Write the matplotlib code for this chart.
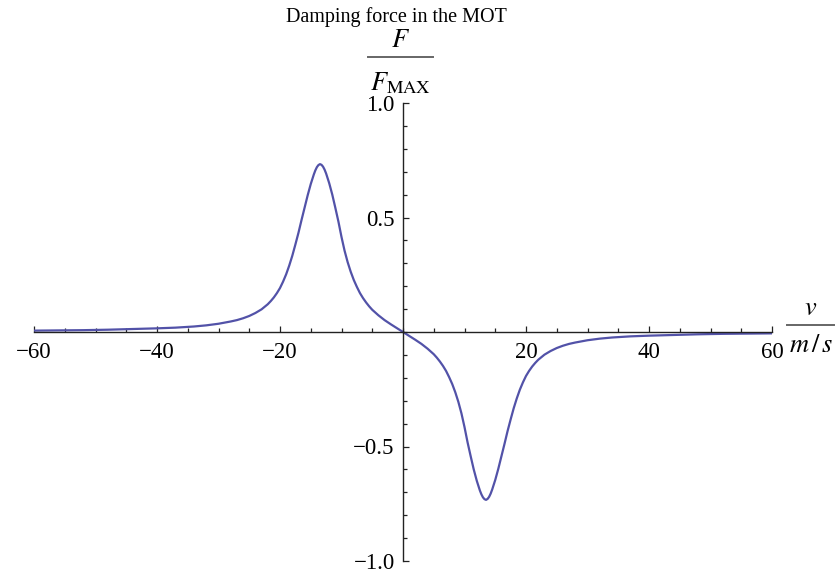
import matplotlib
matplotlib.use("Agg")
import matplotlib.pyplot as plt
from matplotlib.lines import Line2D
from matplotlib.ticker import MultipleLocator, FixedLocator

plt.rcParams["font.family"] = ["Liberation Serif", "DejaVu Serif"]
plt.rcParams["mathtext.fontset"] = "stix"

# Velocity (m/s) and normalised damping force F/F_MAX
velocity = [-60, -56, -52, -48, -44, -40, -37, -34, -32, -30, -28, -27, -26,
            -25, -24, -23, -22, -21.5, -21, -20.5, -20, -19.5, -19, -18.5,
            -18, -17.5, -17, -16.5, -16, -15.5, -15, -14.5, -14.25, -14,
            -13.75, -13.5, -13.25, -13, -12.75, -12.5, -12, -11.5, -11, -10.5,
            -10, -9.5, -9, -8.5, -8, -7.5, -7, -6.5, -6, -5.5, -5, -4, -3,
            -2, -1, 0,
            1, 2, 3, 4, 5, 5.5, 6, 6.5, 7, 7.5, 8, 8.5, 9, 9.5, 10, 10.5,
            11, 11.5, 12, 12.5, 12.75, 13, 13.25, 13.5, 13.75, 14, 14.25,
            14.5, 15, 15.5, 16, 16.5, 17, 17.5, 18, 18.5, 19, 19.5, 20, 20.5,
            21, 21.5, 22, 23, 24, 25, 26, 27, 28, 30, 32, 34, 37, 40, 44, 48,
            52, 56, 60]
force = [0.006, 0.007, 0.008, 0.010, 0.013, 0.016, 0.019, 0.024, 0.029,
         0.036, 0.046, 0.052, 0.060, 0.070, 0.083, 0.099, 0.121, 0.135,
         0.151, 0.170, 0.192, 0.220, 0.252, 0.290, 0.333, 0.382, 0.433,
         0.489, 0.543, 0.597, 0.646, 0.688, 0.706, 0.720, 0.729, 0.733,
         0.730, 0.722, 0.709, 0.692, 0.650, 0.600, 0.542, 0.482, 0.415,
         0.355, 0.305, 0.263, 0.227, 0.197, 0.170, 0.148, 0.129, 0.112,
         0.097, 0.073, 0.052, 0.034, 0.017, 0.0,
         -0.017, -0.034, -0.052, -0.073, -0.097, -0.112, -0.129, -0.148,
         -0.170, -0.197, -0.227, -0.263, -0.305, -0.355, -0.415, -0.482,
         -0.542, -0.600, -0.650, -0.692, -0.709, -0.722, -0.730, -0.733,
         -0.729, -0.720, -0.706, -0.688, -0.646, -0.597, -0.543, -0.489,
         -0.433, -0.382, -0.333, -0.290, -0.252, -0.220, -0.192, -0.170,
         -0.151, -0.135, -0.121, -0.099, -0.083, -0.070, -0.060, -0.052,
         -0.046, -0.036, -0.029, -0.024, -0.019, -0.016, -0.013, -0.010,
         -0.008, -0.007, -0.006]

x_major = [-60, -40, -20, 20, 40, 60]
x_labels = ["\u221260", "\u221240", "\u221220", "20", "40", "60"]
y_major = [-1.0, -0.5, 0.5, 1.0]
y_labels = ["\u22121.0", "\u22120.5", "0.5", "1.0"]

W, H = 839, 575
fig = plt.figure(figsize=(W / 100, H / 100), dpi=100)
ax = fig.add_axes([34 / W, 1 - 561 / H, (772 - 34) / W, (561 - 103) / H])

ax.plot(velocity, force, color="#5252a8", lw=1.6, solid_capstyle="round",
        solid_joinstyle="round")

ax.set_xlim(-60, 60)
ax.set_ylim(-1.0, 1.0)

for s in ("top", "right"):
    ax.spines[s].set_visible(False)
ax.spines["left"].set_position(("data", 0))
ax.spines["bottom"].set_position(("data", 0))
for s in ("left", "bottom"):
    ax.spines[s].set_linewidth(1.0)
    ax.spines[s].set_color("#222222")

ax.xaxis.set_major_locator(FixedLocator(x_major))
ax.set_xticklabels(x_labels)
ax.xaxis.set_minor_locator(MultipleLocator(5))
ax.yaxis.set_major_locator(FixedLocator(y_major))
ax.set_yticklabels(y_labels)
ax.yaxis.set_minor_locator(MultipleLocator(0.1))

ax.tick_params(which="both", direction="in", color="#222222", width=0.9,
               labelsize=16.5)
ax.tick_params(which="major", length=4.6)
ax.tick_params(which="minor", length=2.8)
ax.tick_params(axis="x", which="major", pad=7)
ax.tick_params(axis="y", which="major", pad=6)
ax.patch.set_visible(False)


def px(x, y):
    """Pixel position (from top-left) to figure fraction."""
    return x / W, 1 - y / H


fig.text(*px(396, 22), "Damping force in the MOT", ha="center",
         va="baseline", fontsize=14.5)

# stacked axis labels: numerator, fraction bar, denominator
fig.text(*px(401, 47), r"$F$", ha="center", va="baseline", fontsize=19)
fig.add_artist(Line2D([368 / W, 433 / W], [1 - 57 / H, 1 - 57 / H],
                      transform=fig.transFigure, color="#666666", lw=1.4))
fig.text(*px(400, 90), r"$F_{\mathrm{MAX}}$", ha="center", va="baseline",
         fontsize=19)

fig.text(*px(811, 315), r"$v$", ha="center", va="baseline", fontsize=19)
fig.add_artist(Line2D([787 / W, 834 / W], [1 - 325 / H, 1 - 325 / H],
                      transform=fig.transFigure, color="#666666", lw=1.4))
fig.text(*px(811, 352), r"$m\,/\,s$", ha="center", va="baseline",
         fontsize=19)

fig.savefig("out.png", dpi=100)
